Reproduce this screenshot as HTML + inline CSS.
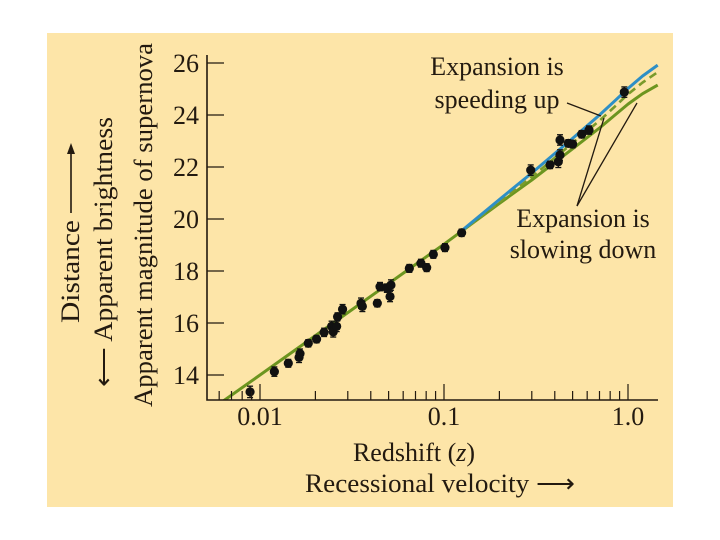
<!DOCTYPE html>
<html><head><meta charset="utf-8"><style>
html,body{margin:0;padding:0;background:#fff;}
svg{display:block;}
text{font-family:"Liberation Serif",serif;fill:#231a10;}
</style></head><body>
<svg id="chart" width="720" height="540" viewBox="0 0 720 540" xmlns="http://www.w3.org/2000/svg">
<defs><clipPath id="plotclip"><rect x="207" y="40" width="460" height="360"/></clipPath></defs>
<rect x="47" y="33" width="626" height="474" fill="#fde5a8"/>
<g id="lines" clip-path="url(#plotclip)"></g>
<g id="points"></g>
<g id="axes"></g>
<text transform="translate(152,225) rotate(-90)" text-anchor="middle" font-size="26" textLength="364" lengthAdjust="spacingAndGlyphs">Apparent magnitude of supernova</text>
<text transform="translate(112,387) rotate(-90)" font-size="26" textLength="270" lengthAdjust="spacingAndGlyphs">⟵ Apparent brightness</text>
<text transform="translate(79,323) rotate(-90)" font-size="26" textLength="103" lengthAdjust="spacingAndGlyphs">Distance</text>
<g>
<line x1="71" y1="213" x2="71" y2="150" stroke="#231a10" stroke-width="1.6"/>
<path d="M71,143 L67,154 L75,154 Z" fill="#231a10"/>
</g>
<text x="414" y="461" text-anchor="middle" font-size="26">Redshift (<tspan font-style="italic">z</tspan>)</text>
<text x="305" y="492" font-size="26" textLength="270" lengthAdjust="spacingAndGlyphs">Recessional velocity ⟶</text>
<text x="497" y="75" text-anchor="middle" font-size="26">Expansion is</text>
<text x="497" y="108" text-anchor="middle" font-size="26">speeding up</text>
<text x="583" y="227" text-anchor="middle" font-size="26">Expansion is</text>
<text x="583" y="258" text-anchor="middle" font-size="26">slowing down</text>
<g stroke="#231a10" stroke-width="1.3" fill="none">
<line x1="567" y1="103" x2="601" y2="116"/>
<line x1="577" y1="206" x2="604" y2="118"/>
<line x1="577" y1="206" x2="637" y2="103"/>
</g>
</svg>
<script>
const zData=[0.00883,0.01197,0.01425,0.0163,0.0165,0.0183,0.0203,0.0223,0.0245,0.0250,0.0261,0.0264,0.0281,0.0354,0.036,0.0434,0.0449,0.0489,0.0509,0.0515,0.0648,0.0749,0.0805,0.0875,0.1012,0.1247,0.296,0.377,0.418,0.427,0.427,0.474,0.500,0.560,0.614,0.955];
const magData=[13.35,14.13,14.45,14.68,14.82,15.22,15.38,15.64,15.87,15.66,15.87,16.24,16.53,16.76,16.64,16.76,17.40,17.34,17.02,17.46,18.10,18.30,18.13,18.64,18.90,19.47,21.88,22.08,22.20,22.46,23.04,22.91,22.88,23.26,23.42,24.88];
const errData=[0.22,0.18,0.15,0.2,0.18,0.14,0.14,0.16,0.2,0.2,0.2,0.15,0.18,0.2,0.2,0.14,0.16,0.16,0.2,0.2,0.15,0.15,0.15,0.15,0.15,0.14,0.2,0.14,0.22,0.2,0.2,0.14,0.14,0.14,0.16,0.2];
const greenZ=[0.0055,0.01,0.03,0.1,0.2,0.3,0.5,0.7,0.85,1.0,1.2,1.45];
const greenM=[12.70,14.0,16.40,19.03,20.6,21.5,22.7,23.5,24.0,24.42,24.82,25.15];
const blueZ=[0.12,0.2,0.3,0.5,0.7,0.85,1.0,1.2,1.45];
const blueM=[19.45,20.75,21.77,23.1,24.0,24.55,25.02,25.5,25.92];
const dashZ=[0.12,0.2,0.3,0.5,0.7,0.85,1.0,1.2,1.45];
const dashM=[19.42,20.65,21.62,22.92,23.78,24.33,24.8,25.25,25.65];
const yTicks=[14,16,18,20,22,24,26];
const xMajor=[0.01,0.1,1.0];
const xMajorLabels=["0.01","0.1","1.0"];

const NS="http://www.w3.org/2000/svg";
const X0=207,X1=658,Y0=400;
function xs(z){return 628+184*Math.log10(z);}
function ys(m){return 63+(26-m)*26;}
function mk(tag,attrs,parent){const e=document.createElementNS(NS,tag);for(const k in attrs)e.setAttribute(k,attrs[k]);parent.appendChild(e);return e;}
const gl=document.getElementById('lines'),gp=document.getElementById('points'),ga=document.getElementById('axes');
function linePath(zs,ms){return zs.map((z,i)=>(i?'L':'M')+xs(z).toFixed(1)+','+ys(ms[i]).toFixed(1)).join(' ');}
let p=mk('path',{d:linePath(greenZ,greenM),stroke:'#6c951f','stroke-width':3,fill:'none','stroke-linejoin':'round'},gl);


p=mk('path',{d:linePath(dashZ,dashM),stroke:'#7a9a2a','stroke-width':2.6,fill:'none','stroke-dasharray':'8,5','stroke-linejoin':'round'},gl);


p=mk('path',{d:linePath(blueZ,blueM),stroke:'#2e8fc6','stroke-width':3,fill:'none','stroke-linejoin':'round'},gl);


zData.forEach((z,i)=>{
  const g=mk('g',{},gp);
  
  
  const x=xs(z),y=ys(magData[i]),e=errData[i]*26;
  mk('line',{x1:x,x2:x,y1:y-e,y2:y+e,stroke:'#111','stroke-width':1.3},g);
  mk('line',{x1:x-3,x2:x+3,y1:y-e,y2:y-e,stroke:'#111','stroke-width':1.3},g);
  mk('line',{x1:x-3,x2:x+3,y1:y+e,y2:y+e,stroke:'#111','stroke-width':1.3},g);
  mk('circle',{cx:x,cy:y,r:4.6,fill:'#111'},g);
});
let ax=mk('path',{d:`M${X0},55 L${X0},${Y0} L${X1},${Y0}`,stroke:'#231a10','stroke-width':1.6,fill:'none'},ga);


yTicks.forEach(v=>{
  const y=ys(v);
  const t=mk('line',{x1:X0,x2:X0+17,y1:y,y2:y,stroke:'#231a10','stroke-width':1.3},ga);
  
  
  const l=mk('text',{x:199,y:y+9,'text-anchor':'end','font-size':26},ga);
  
  
  l.textContent=v;
});
for(let d=0.001;d<1;d*=10){for(let k=1;k<=9;k++){const z=d*k;const x=xs(z);if(x<X0+2||x>X1)continue;
  const major=(k===1);
  const t=mk('line',{x1:x,x2:x,y1:Y0,y2:Y0-(major?16:9),stroke:'#231a10','stroke-width':1.2},ga);
  
  
}}
{const x=xs(1);const t=mk('line',{x1:x,x2:x,y1:Y0,y2:Y0-16,stroke:'#231a10','stroke-width':1.2},ga);

}
xMajor.forEach((z,i)=>{
  const l=mk('text',{x:xs(z),y:425,'text-anchor':'middle','font-size':26},ga);
  
  
  l.textContent=xMajorLabels[i];
});
</script>
</body></html>
